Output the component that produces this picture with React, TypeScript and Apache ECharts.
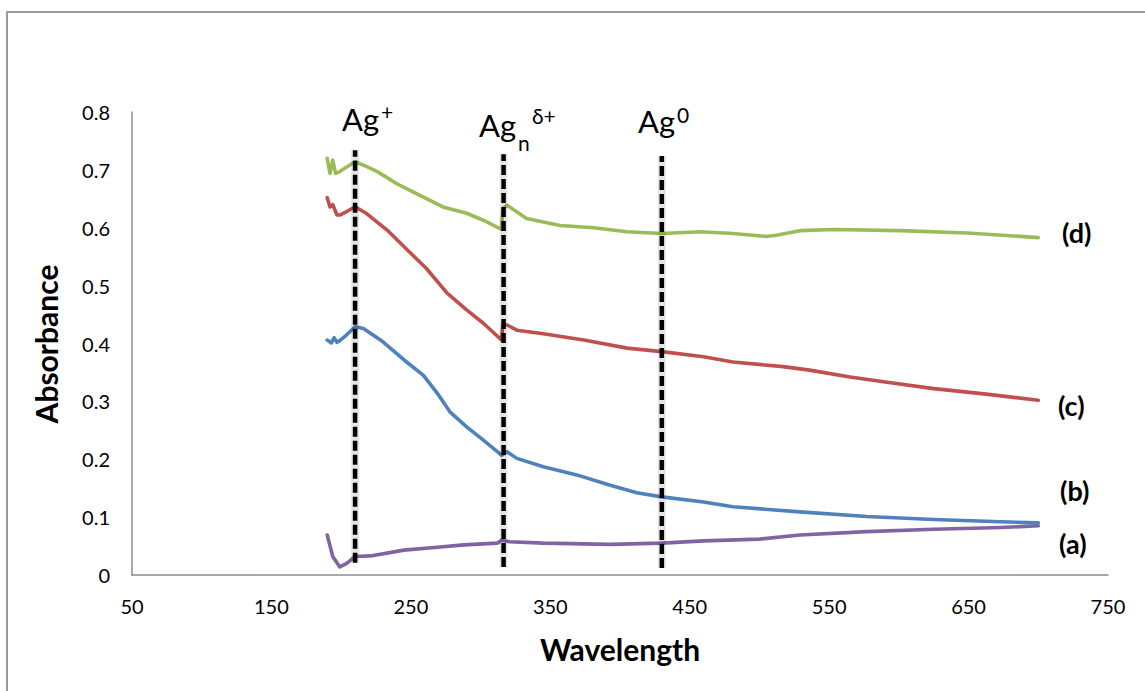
import React, { useEffect, useRef } from "react";
import * as echarts from "echarts";

// Wavelength (nm) and absorbance
const wlA = [190, 194, 199, 204, 210, 221, 245, 269, 288, 312, 315, 321, 345, 393, 430, 460, 500, 529, 577, 625, 673, 700];
const absA = [0.069, 0.032, 0.014, 0.02, 0.032, 0.033, 0.043, 0.048, 0.052, 0.055, 0.06, 0.0575, 0.055, 0.053, 0.055, 0.059, 0.062, 0.069, 0.075, 0.079, 0.082, 0.085];

const wlB = [190, 193, 195, 197, 199, 204, 210, 216, 230, 247, 259, 269, 278, 290, 302, 315, 319, 326, 345, 369, 393, 412, 430, 460, 481, 529, 577, 625, 673, 700];
const absB = [0.406, 0.401, 0.41, 0.402, 0.405, 0.415, 0.429, 0.426, 0.403, 0.368, 0.345, 0.314, 0.282, 0.256, 0.233, 0.207, 0.213, 0.2015, 0.187, 0.173, 0.155, 0.142, 0.135, 0.126, 0.118, 0.109, 0.101, 0.096, 0.092, 0.09];

const wlC = [190, 192, 194, 197, 199, 204, 210, 218, 233, 249, 261, 276, 290, 302, 315, 316, 319, 326, 345, 374, 405, 430, 460, 481, 517, 536, 565, 589, 625, 661, 700];
const absC = [0.652, 0.636, 0.64, 0.622, 0.622, 0.628, 0.636, 0.625, 0.596, 0.558, 0.53, 0.487, 0.458, 0.435, 0.406, 0.432, 0.432, 0.423, 0.417, 0.406, 0.392, 0.386, 0.377, 0.368, 0.36, 0.354, 0.342, 0.334, 0.322, 0.313, 0.302];

const wlD = [190, 192, 194, 196, 199, 204, 210, 218, 226, 240, 254, 273, 290, 302, 315, 316, 319, 333, 357, 381, 405, 430, 458, 481, 505, 512, 529, 553, 601, 649, 700];
const absD = [0.72, 0.694, 0.717, 0.694, 0.697, 0.705, 0.714, 0.706, 0.697, 0.676, 0.659, 0.636, 0.625, 0.613, 0.597, 0.633, 0.639, 0.616, 0.604, 0.6, 0.593, 0.59, 0.593, 0.59, 0.585, 0.587, 0.595, 0.597, 0.595, 0.591, 0.583];

// Vertical dashed markers: Ag+, Agn δ+, Ag0
const markerWl = [210, 316.5, 430];
const markerTop = [0.734, 0.727, 0.724];
const markerBottom = [0.021, 0.014, 0.012];

const seriesNames = ["(a)", "(b)", "(c)", "(d)"];
const seriesColors = ["#8064A2", "#4F81BD", "#C0504D", "#9BBB59"];

const FONT = "Lato, 'Open Sans', sans-serif";

function pairs(xs: number[], ys: number[]) {
  return xs.map((x, i) => [x, ys[i]]);
}

export default function App() {
  const ref = useRef<HTMLDivElement>(null);
  useEffect(() => {
    if (!ref.current) return;
    const chart = echarts.init(ref.current, null, { renderer: "svg" });
    const curves = [
      pairs(wlA, absA),
      pairs(wlB, absB),
      pairs(wlC, absC),
      pairs(wlD, absD),
    ];
    const series: any[] = curves.map((d, i) => ({
      name: seriesNames[i],
      type: "line",
      data: d,
      showSymbol: false,
      symbol: "none",
      lineStyle: { color: seriesColors[i], width: 3.6, cap: "round", join: "round" },
      z: 2,
    }));
    markerWl.forEach((w, i) => {
      // soft grey shadow under the dashed marker
      series.push({
        name: "markerShadow" + i,
        type: "line",
        data: [
          [w, markerBottom[i]],
          [w, markerTop[i]],
        ],
        showSymbol: false,
        symbol: "none",
        silent: true,
        lineStyle: { color: "rgba(0,0,0,0.1)", width: 8, type: "solid" },
        z: 4,
      });
      series.push({
        name: "marker" + i,
        type: "line",
        data: [
          [w, markerBottom[i]],
          [w, markerTop[i]],
        ],
        showSymbol: false,
        symbol: "none",
        lineStyle: { color: "#000", width: 4.5, type: [10, 4] },
        z: 5,
      });
    });

    const big = 31;
    const sup = 21;
    const txt = (text: string, x: number, y: number, size: number, extra: any = {}) => ({
      type: "text",
      x,
      y,
      style: {
        text,
        fill: "#000",
        fontFamily: FONT,
        fontSize: size,
        textAlign: "left",
        textVerticalAlign: "middle",
        ...extra,
      },
      z: 10,
    });

    chart.setOption({
      animation: false,
      backgroundColor: "#fff",
      grid: { left: 132, right: 37, top: 112, bottom: 116 },
      xAxis: {
        type: "value",
        min: 50,
        max: 750,
        interval: 50,
        axisLine: { show: true, lineStyle: { color: "#8c8c8c", width: 1.5 } },
        axisTick: { show: false },
        splitLine: { show: false },
        axisLabel: {
          color: "#000",
          fontFamily: FONT,
          fontSize: 20,
          margin: 21,
          formatter: (v: number) => ((v - 50) % 100 === 0 ? String(v) : ""),
        },
      },
      yAxis: {
        type: "value",
        min: 0,
        max: 0.8,
        interval: 0.1,
        axisLine: { show: true, lineStyle: { color: "#8c8c8c", width: 1.5 } },
        axisTick: { show: false },
        splitLine: { show: false },
        axisLabel: {
          color: "#000",
          fontFamily: FONT,
          fontSize: 20,
          margin: 22,
        },
      },
      series,
      graphic: [
        {
          type: "rect",
          shape: { x: 7, y: 12, width: 1300, height: 900 },
          style: { fill: "none", stroke: "#9a9a9a", lineWidth: 2 },
          z: 0,
        },
        // axis titles
        txt("Wavelength", 620, 649, 30, { fontWeight: "bold", textAlign: "center" }),
        {
          type: "text",
          x: 46,
          y: 344,
          rotation: Math.PI / 2,
          style: {
            text: "Absorbance",
            fill: "#000",
            fontFamily: FONT,
            fontSize: 30,
            fontWeight: "bold",
            textAlign: "center",
            textVerticalAlign: "middle",
          },
          z: 10,
        },
        // Ag+
        txt("Ag", 342, 118.5, big),
        txt("+", 381, 111, sup),
        // Agn δ+
        txt("Ag", 479, 125, big),
        txt("n", 518, 142, sup),
        txt("δ+", 532, 115, sup),
        // Ag0
        txt("Ag", 638, 121, big),
        txt("0", 677, 114, sup),
        // curve labels
        txt("(d)", 1062, 232, 27, { fontWeight: "bold" }),
        txt("(c)", 1058, 405, 27, { fontWeight: "bold" }),
        txt("(b)", 1060, 490, 27, { fontWeight: "bold" }),
        txt("(a)", 1059, 543, 27, { fontWeight: "bold" }),
      ],
    });
    return () => chart.dispose();
  }, []);
  return (
    <div
      ref={ref}
      style={{ position: "fixed", left: 0, top: 0, width: 1145, height: 691 }}
    />
  );
}
